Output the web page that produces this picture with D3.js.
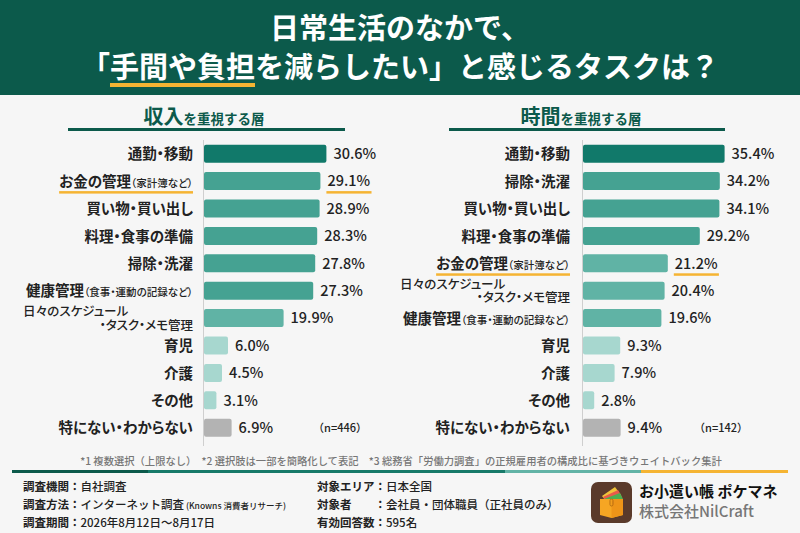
<!DOCTYPE html>
<html lang="ja">
<head>
<meta charset="UTF-8">
<title>日常生活のなかで、「手間や負担を減らしたい」と感じるタスクは？</title>
<script src="https://d3js.org/d3.v7.min.js"></script>
<style>
  html, body { margin: 0; padding: 0; background: #f6f6f6; }
  svg { display: block; font-family: "Noto Sans CJK JP", "Noto Sans", sans-serif; }
  .palt { font-feature-settings: "palt"; }
</style>
</head>
<body>
<div id="chart"></div>
<script>
// データ
const leftCategories = ["通勤・移動", "お金の管理（家計簿など）", "買い物・買い出し", "料理・食事の準備", "掃除・洗濯",
  "健康管理（食事・運動の記録など）", "日々のスケジュール・タスク・メモ管理", "育児", "介護", "その他", "特にない・わからない"];
const leftValues = [30.6, 29.1, 28.9, 28.3, 27.8, 27.3, 19.9, 6.0, 4.5, 3.1, 6.9];
const leftN = "（n=446）";

const rightCategories = ["通勤・移動", "掃除・洗濯", "買い物・買い出し", "料理・食事の準備", "お金の管理（家計簿など）",
  "日々のスケジュール・タスク・メモ管理", "健康管理（食事・運動の記録など）", "育児", "介護", "その他", "特にない・わからない"];
const rightValues = [35.4, 34.2, 34.1, 29.2, 21.2, 20.4, 19.6, 9.3, 7.9, 2.8, 9.4];
const rightN = "（n=142）";

const footnote = "*1 複数選択（上限なし）　*2 選択肢は一部を簡略化して表記　*3 総務省「労働力調査」の正規雇用者の構成比に基づきウェイトバック集計";

const width = 800, height = 533;
const C = {
  header: "#0c5a4b",
  dark: "#11796a",
  mid: "#45a292",
  light: "#60b3a5",
  pale: "#a7d7cf",
  gray: "#b3b3b3",
  orange: "#f5b433",
  text: "#222"
};

const svg = d3.select("#chart").append("svg")
  .attr("width", width).attr("height", height);

svg.append("rect").attr("width", width).attr("height", height).attr("fill", "#f6f6f6");

// ヘッダー
svg.append("rect").attr("width", width).attr("height", 95).attr("fill", C.header);

svg.append("text")
  .attr("x", 400).attr("y", 39)
  .attr("text-anchor", "middle")
  .attr("fill", "#fff").attr("font-size", 29).attr("font-weight", 700)
  .text("日常生活のなかで、");

const title2 = svg.append("text")
  .attr("x", 400).attr("y", 78)
  .attr("text-anchor", "middle")
  .attr("fill", "#fff").attr("font-size", 29).attr("font-weight", 700)
  .text("「手間や負担を減らしたい」と感じるタスクは？");

// 「手間や負担」の下線
{
  const node = title2.node();
  const a = node.getExtentOfChar(1), b = node.getExtentOfChar(5);
  svg.insert("rect", "text")
    .attr("x", a.x).attr("y", 83)
    .attr("width", b.x + b.width - a.x).attr("height", 4)
    .attr("fill", C.orange);
  title2.raise();
}

function tier(cat, v, i) {
  if (cat.startsWith("特にない")) return C.gray;
  if (i === 0) return C.dark;
  if (v >= 25) return C.mid;
  if (v >= 10) return C.light;
  return C.pale;
}

function panel(cats, vals, opt) {
  const g = svg.append("g");

  // 見出し
  const h = g.append("text")
    .attr("x", opt.headX).attr("y", 124)
    .attr("text-anchor", "middle")
    .attr("fill", C.header).attr("font-weight", 700);
  h.append("tspan").attr("font-size", 20).text(opt.head);
  h.append("tspan").attr("font-size", 13.5).text("を重視する層");
  g.append("rect")
    .attr("x", opt.lineX[0]).attr("y", 128)
    .attr("width", opt.lineX[1] - opt.lineX[0]).attr("height", 3)
    .attr("fill", C.header);

  const x = d3.scaleLinear().domain([0, 40]).range([opt.x0, opt.x0 + 160]);
  const y = d3.scaleBand().domain(cats).range([140, 441.4])
    .paddingInner(0.343).paddingOuter(0.1715);

  // 軸線
  g.append("line")
    .attr("x1", opt.x0 - 0.5).attr("x2", opt.x0 - 0.5)
    .attr("y1", 140).attr("y2", 446)
    .attr("stroke", "#cfcfcf").attr("stroke-width", 1);

  const data = cats.map((c, i) => ({ cat: c, v: vals[i], i }));

  g.selectAll("rect.bar").data(data).join("rect")
    .attr("class", "bar")
    .attr("x", x(0))
    .attr("y", d => y(d.cat))
    .attr("width", d => x(d.v) - x(0))
    .attr("height", y.bandwidth())
    .attr("rx", 2)
    .attr("fill", d => tier(d.cat, d.v, d.i));

  const vals_ = g.selectAll("text.val").data(data).join("text")
    .attr("class", "val")
    .attr("x", d => x(d.v) + 7)
    .attr("y", d => y(d.cat) + y.bandwidth() / 2)
    .attr("dy", "0.36em")
    .attr("font-size", 14.5).attr("font-weight", 500)
    .attr("fill", C.text)
    .text(d => d.v.toFixed(1) + "%");

  // カテゴリラベル
  data.forEach(d => {
    const cy = y(d.cat) + y.bandwidth() / 2;
    if (d.cat.includes("・タスク")) {
      const k = d.cat.indexOf("・タスク");
      g.append("text").attr("class", "palt")
        .attr("x", opt.labelX - 170).attr("y", cy - 6.5).attr("dy", "0.36em")
        .attr("font-size", 12.5).attr("font-weight", 500).attr("fill", C.text)
        .text(d.cat.slice(0, k));
      g.append("text").attr("class", "palt")
        .attr("x", opt.labelX).attr("y", cy + 7).attr("dy", "0.36em")
        .attr("text-anchor", "end")
        .attr("font-size", 12.5).attr("font-weight", 500).attr("fill", C.text)
        .text(d.cat.slice(k));
      return;
    }
    const t = g.append("text").attr("class", "palt")
      .attr("x", opt.labelX).attr("y", cy).attr("dy", "0.36em")
      .attr("text-anchor", "end")
      .attr("font-weight", 700).attr("fill", C.text);
    const p = d.cat.indexOf("（");
    if (p >= 0) {
      t.append("tspan").attr("font-size", 14.5).text(d.cat.slice(0, p));
      t.append("tspan").attr("font-size", 10.5).attr("font-weight", 500).text(d.cat.slice(p));
    } else {
      t.append("tspan").attr("font-size", 14.5).text(d.cat);
    }
    if (d.cat.startsWith("お金の管理")) {
      const bb = t.node().getBBox();
      g.append("rect").attr("x", bb.x).attr("y", cy + 10)
        .attr("width", bb.width).attr("height", 2.5).attr("fill", C.orange);
      const vb = vals_.filter(e => e.cat === d.cat).node().getBBox();
      g.append("rect").attr("x", vb.x - 1).attr("y", cy + 10)
        .attr("width", vb.width + 2).attr("height", 2.5).attr("fill", C.orange);
    }
  });

  // n数
  const last = cats[cats.length - 1];
  g.append("text")
    .attr("x", opt.nX).attr("y", y(last) + y.bandwidth() / 2).attr("dy", "0.36em")
    .attr("text-anchor", "middle")
    .attr("font-size", 11).attr("font-weight", 500).attr("fill", C.text)
    .text(opt.n);
}

panel(leftCategories, leftValues, {
  head: "収入", headX: 204, lineX: [68, 345],
  x0: 204, labelX: 193, nX: 340, n: leftN
});
panel(rightCategories, rightValues, {
  head: "時間", headX: 581, lineX: [449, 725],
  x0: 583, labelX: 570, nX: 721, n: rightN
});

// 注記
svg.append("text")
  .attr("x", 401).attr("y", 465)
  .attr("text-anchor", "middle")
  .attr("font-size", 10.3).attr("font-weight", 500).attr("fill", "#777")
  .text(footnote);

// 区切り線
const seg = [[12, 148, C.header], [148, 505, "#177a69"], [505, 641, "#62b3a6"], [641, 788, C.orange]];
svg.selectAll("rect.seg").data(seg).join("rect")
  .attr("class", "seg")
  .attr("x", d => d[0]).attr("y", 470)
  .attr("width", d => d[1] - d[0]).attr("height", 3)
  .attr("fill", d => d[2]);

// 調査概要
function info(xx, yy, label, value, sub) {
  const t = svg.append("text").attr("x", xx).attr("y", yy)
    .attr("font-size", 11.5).attr("fill", C.text);
  t.append("tspan").attr("font-weight", 700).text(label);
  t.append("tspan").attr("font-weight", 500).text(value);
  if (sub) t.append("tspan").attr("font-size", 8.5).attr("font-weight", 500).text(sub);
}
info(23, 491, "調査機関：", "自社調査");
info(23, 509, "調査方法：", "インターネット調査", " (Knowns 消費者リサーチ)");
info(23, 527, "調査期間：", "2026年8月12日～8月17日");
info(317, 491, "対象エリア：", "日本全国");
info(317, 509, "対象者　　：", "会社員・団体職員（正社員のみ）");
info(317, 527, "有効回答数：", "595名");

// ロゴ
const logo = svg.append("g").attr("transform", "translate(591,482)");
logo.append("rect").attr("width", 41).attr("height", 41).attr("rx", 7).attr("fill", "#5a3a2b");
logo.append("path").attr("d", "M11,14 L24,5 L30,13 L14,18 Z").attr("fill", "#f0c23a");
logo.append("path").attr("d", "M12,15 L27,8 L31,15 L15,19 Z").attr("fill", "#e85a4a");
logo.append("path").attr("d", "M13,17 L29,11 L32,17 L16,20 Z").attr("fill", "#4caf50");
logo.append("path").attr("d", "M9,17 L32,17 L32,33 L20.5,36 L9,33 Z").attr("fill", "#f6a623");
logo.append("path").attr("d", "M20.5,17 L32,17 L32,33 L20.5,36 Z").attr("fill", "#ee9418");
logo.append("rect").attr("x", 19).attr("y", 17).attr("width", 3).attr("height", 7).attr("rx", 1.5)
  .attr("fill", "none").attr("stroke", "#b86d10").attr("stroke-width", 1);

svg.append("text").attr("x", 639).attr("y", 497)
  .attr("font-size", 15).attr("font-weight", 700).attr("fill", "#111")
  .text("お小遣い帳 ポケマネ");
svg.append("text").attr("x", 639).attr("y", 517)
  .attr("font-size", 15).attr("font-weight", 500).attr("fill", "#777")
  .text("株式会社NilCraft");
</script>
</body>
</html>
